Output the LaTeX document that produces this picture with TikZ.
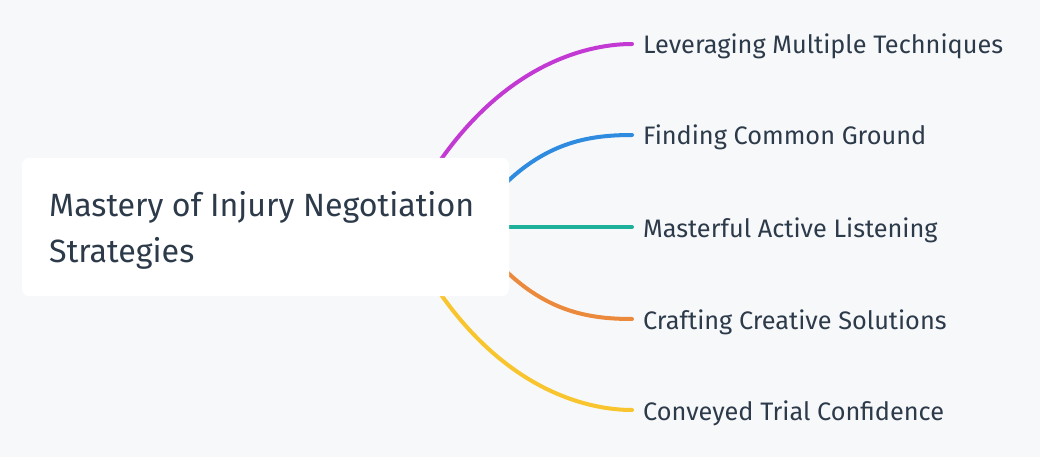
\documentclass[tikz,border=0pt]{standalone}
\usepackage{fontspec}
\setmainfont{Fira Sans}
\usetikzlibrary{backgrounds}
\definecolor{bg}{HTML}{F7F8FA}
\definecolor{txt}{HTML}{2C3A4A}
\definecolor{cmag}{HTML}{C23AD3}
\definecolor{cblue}{HTML}{2E8BE0}
\definecolor{cteal}{HTML}{1DB09B}
\definecolor{corange}{HTML}{EB8A3C}
\definecolor{cyellow}{HTML}{F8C52E}
\tikzset{
  branch/.style={line width=4pt, line cap=round},
  rootbox/.style={fill=white, rounded corners=7pt, minimum width=487pt, minimum height=138pt, inner sep=0pt},
  roottext/.style={text=txt, font=\fontsize{32.2}{38}\selectfont, inner sep=0pt, anchor=base west},
  leaf/.style={text=txt, font=\fontsize{25.3}{30}\selectfont, inner sep=0pt, anchor=base west},
}
\begin{document}
\begin{tikzpicture}[x=1pt,y=-1pt]
\useasboundingbox (0,0) rectangle (1040,457);
\node[rootbox] (root) at (265.5,227) {};
\node[roottext] (rootA) at (49,216) {Mastery of Injury Negotiation};
\node[roottext] (rootB) at (49,262) {Strategies};
% end points
\coordinate (e1) at (632,44);
\coordinate (e2) at (632,135);
\coordinate (e3) at (632,227);
\coordinate (e4) at (632,319);
\coordinate (e5) at (632,410);
\node[leaf] (l1) at (643,54) {Leveraging Multiple Techniques};
\node[leaf] (l2) at (643,145) {Finding Common Ground};
\node[leaf] (l3) at (643,237) {Masterful Active Listening};
\node[leaf] (l4) at (643,329) {Crafting Creative Solutions};
\node[leaf] (l5) at (643,420) {Conveyed Trial Confidence};
\begin{scope}[on background layer]
\fill[bg] (0,0) rectangle (1040,457);
\coordinate (s1) at (433,170);
\coordinate (s2) at (497,191);
\coordinate (s3) at (500,227);
\coordinate (s4) at (497,263);
\coordinate (s5) at (433,284);
\draw[branch, cmag] (s1) -- (442,158) .. controls (512,60) and (592,44) .. (e1);
\draw[branch, cblue] (s2) -- (508,181) .. controls (550,142) and (590,135) .. (e2);
\draw[branch, cteal] (s3) -- (e3);
\draw[branch, corange] (s4) -- (508,273) .. controls (550,312) and (590,319) .. (e4);
\draw[branch, cyellow] (s5) -- (442,296) .. controls (512,394) and (592,410) .. (e5);
\end{scope}
\end{tikzpicture}
\end{document}
